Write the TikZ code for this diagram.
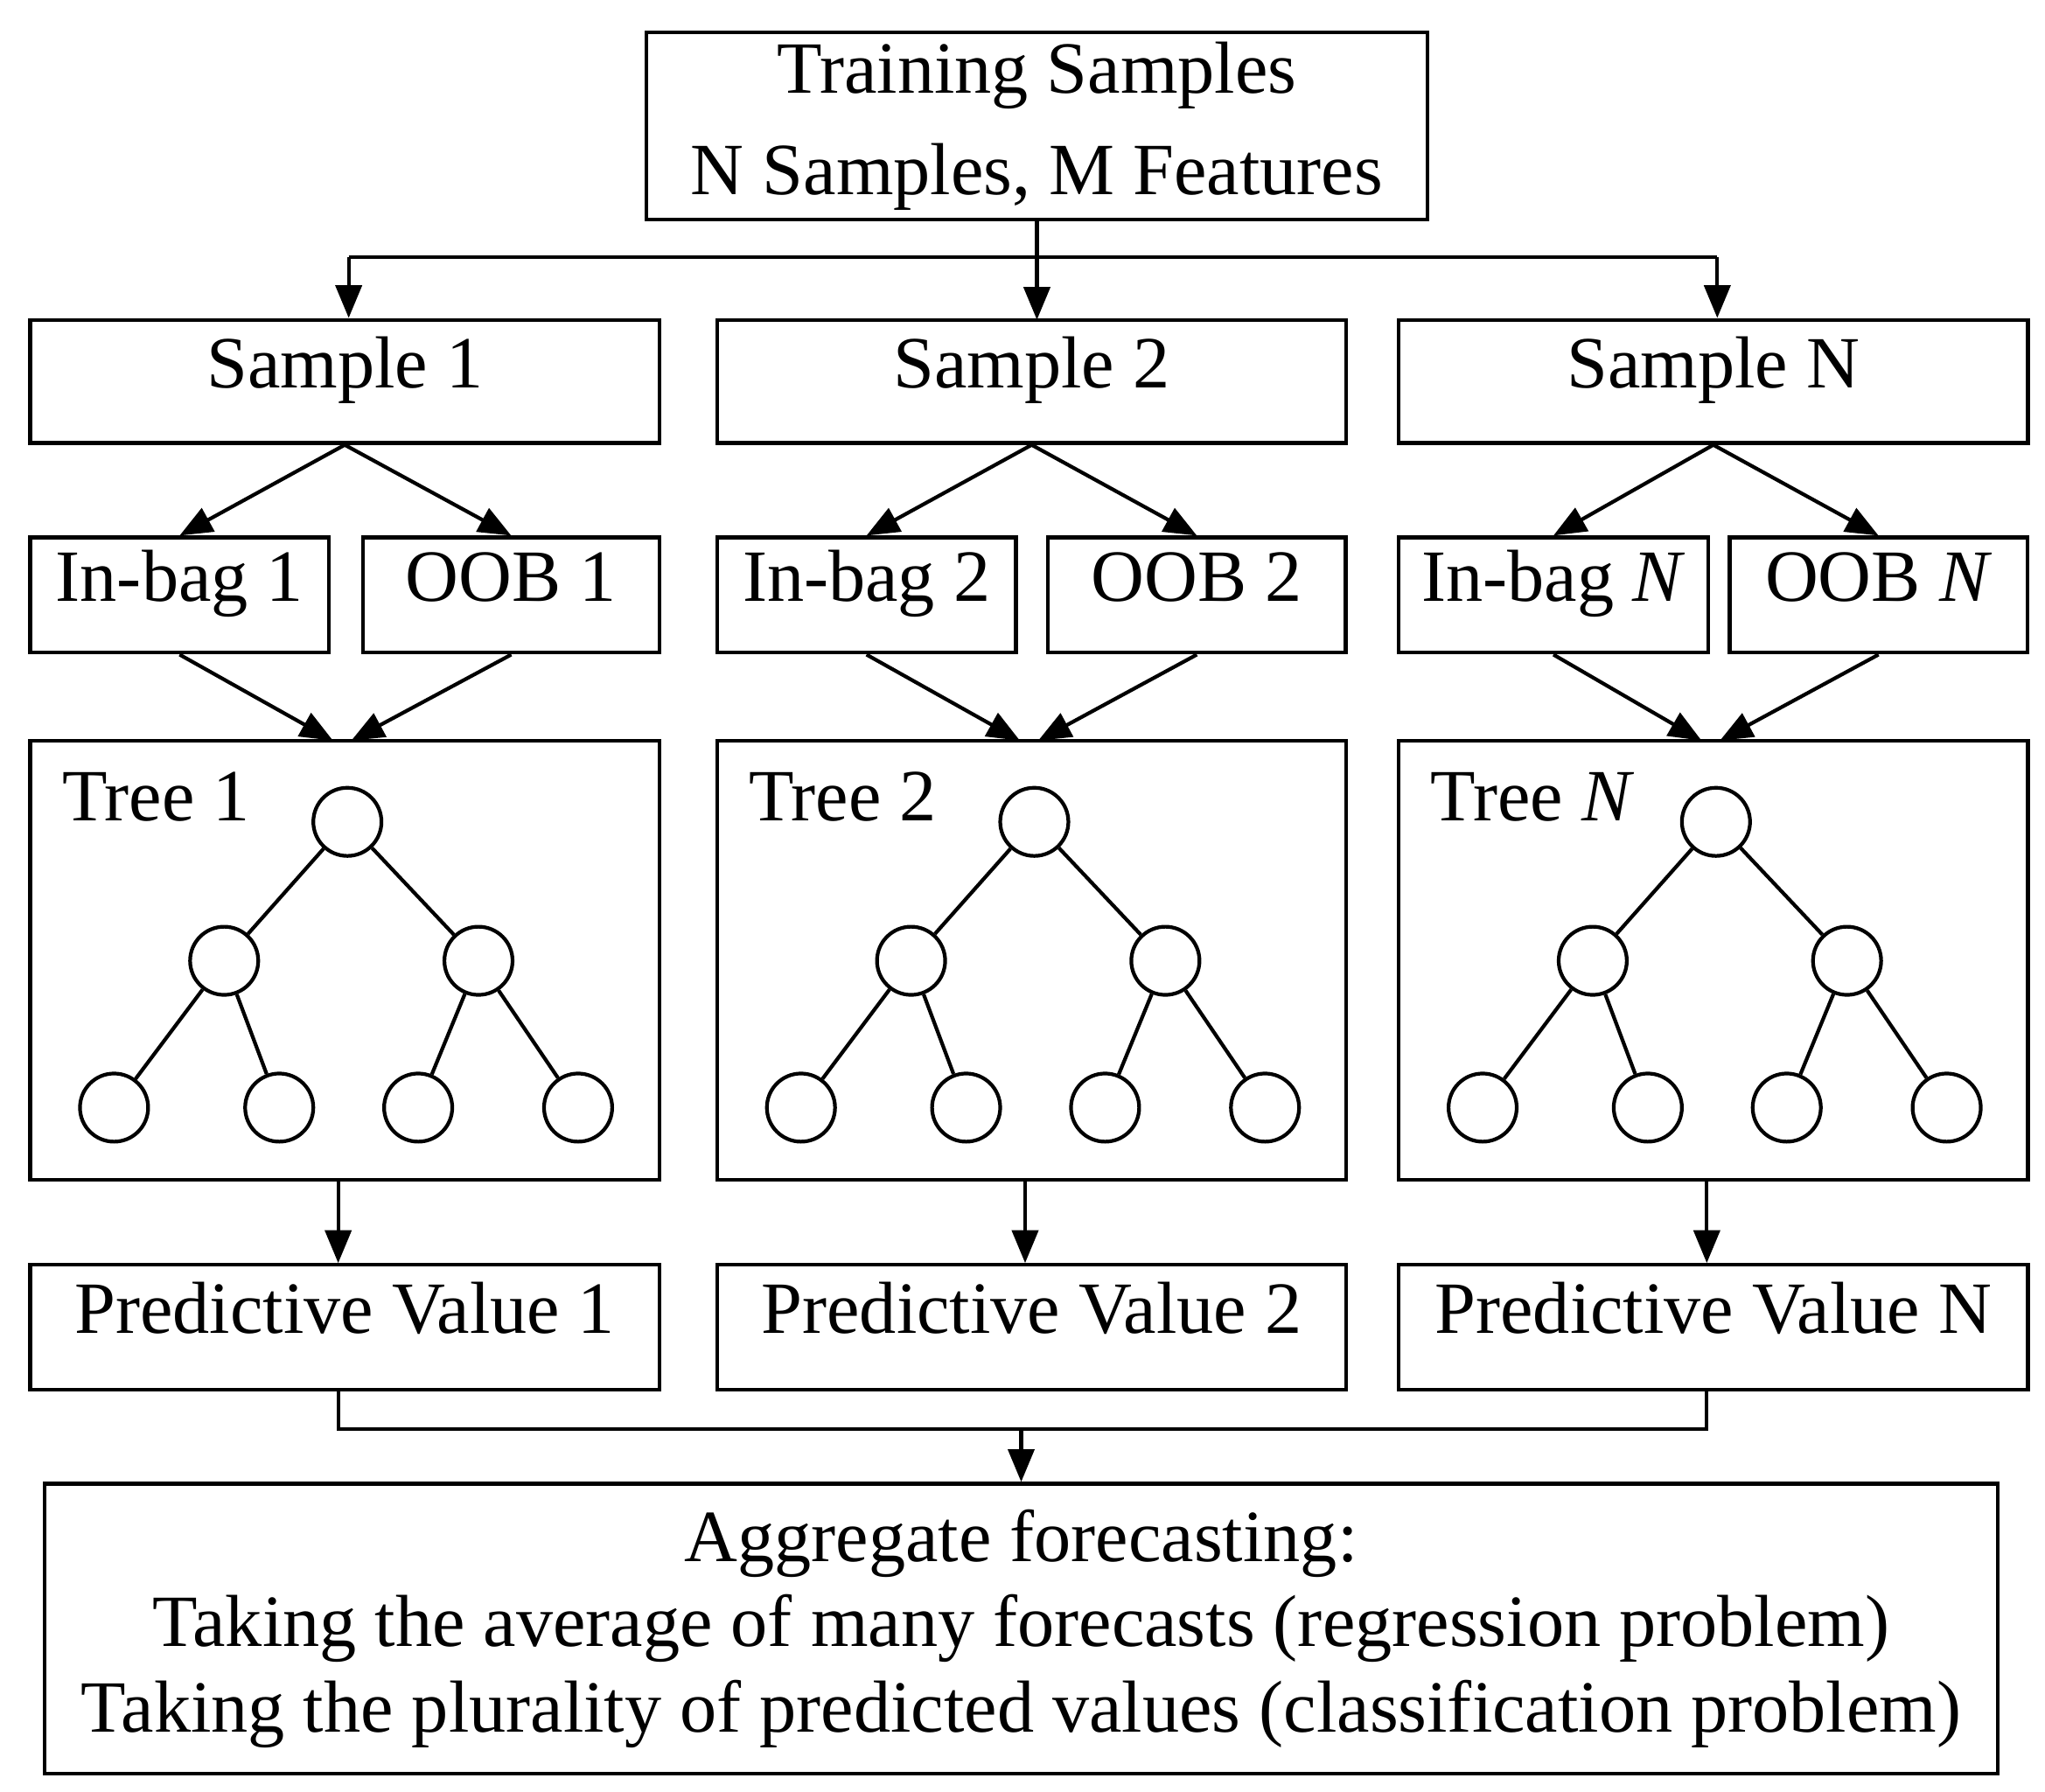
\documentclass[tikz,border=0pt]{standalone}
\usepackage{fontspec}
\setmainfont{Liberation Serif}
\usetikzlibrary{arrows.meta}
\begin{document}
\begin{tikzpicture}[x=0.02cm,y=-0.02cm,line width=1.6pt,
  box/.style={draw,inner sep=0pt,font=\fontsize{32}{38}\selectfont},
  tb/.style={text height=0.75em,text depth=0.22em},
  circ/.style={draw,circle,minimum size=1.04cm,inner sep=0pt},
  arr/.style={-{Triangle[length=0.5cm,width=0.4cm]}},
  lbl/.style={font=\fontsize{32}{38}\selectfont,anchor=west,inner sep=0pt}]
\useasboundingbox (0,0) rectangle (1560,1367);
\node[box,minimum width=596*0.02cm,minimum height=143*0.02cm,align=center] (top) at (791,96) {Training Samples\\[6pt]N Samples, M Features};
\foreach \i/\cx/\ix/\iw/\ox/\ow/\lab/\inl/\oobl/\trl/\pvl in
 {1/263/137/228/390/226/s1/In-bag 1/OOB 1/Tree 1/Predictive Value 1,
  2/787/661/228/913/227/s2/In-bag 2/OOB 2/Tree 2/Predictive Value 2,
  3/1307/1185/236/1433/227/s3/In-bag \textit{N}/OOB \textit{N}/Tree \textit{N}/Predictive Value N}{
  \node[box,tb,minimum width=480*0.02cm,minimum height=94*0.02cm] (S\i) at (\cx,291) {\ifnum\i=3 Sample N\else Sample \i\fi};
  \node[box,tb,minimum width=\iw*0.02cm,minimum height=88*0.02cm] (I\i) at (\ix,454) {\inl};
  \node[box,tb,minimum width=\ow*0.02cm,minimum height=88*0.02cm] (O\i) at (\ox,454) {\oobl};
  \node[box,minimum width=480*0.02cm,minimum height=335*0.02cm] (T\i) at (\cx,732.5) {};
  \node[lbl] (TL\i) at (\cx-217,608) {\trl};
  \node[box,tb,minimum width=480*0.02cm,minimum height=95*0.02cm] (P\i) at (\cx,1012.5) {\pvl};
  \coordinate (Tt\i) at (\cx-2,565);
  \draw[arr] (S\i.south) -- (I\i.north);
  \draw[arr] (S\i.south) -- (O\i.north);
  \draw[arr] (I\i.south) -- ([xshift=-7*0.02cm]Tt\i);
  \draw[arr] (O\i.south) -- ([xshift=7*0.02cm]Tt\i);
  \draw[arr] ([xshift=-5*0.02cm]T\i.south) -- ([xshift=-5*0.02cm]P\i.north);
  \node[circ] (r\i) at (\cx+2,627) {};
  \node[circ] (a\i) at (\cx-92,733) {};
  \node[circ] (b\i) at (\cx+102,733) {};
  \node[circ] (c\i) at (\cx-176,845) {};
  \node[circ] (d\i) at (\cx-50,845) {};
  \node[circ] (e\i) at (\cx+56,845) {};
  \node[circ] (f\i) at (\cx+178,845) {};
  \draw (r\i)--(a\i) (r\i)--(b\i) (a\i)--(c\i) (a\i)--(d\i) (b\i)--(e\i) (b\i)--(f\i);
}
\coordinate (j1) at (266,196);
\coordinate (j3) at (1310,196);
\draw (top.south) -- (791,196);
\draw[arr] (j1) -- (j1|-S1.north);
\draw[arr] (top.south) -- (791,244);
\draw[arr] (j3) -- (j3|-S3.north);
\draw (j1) -- (j3);
\node[box,minimum width=1490*0.02cm,minimum height=221*0.02cm,align=center] (ag) at (779,1242.5)
 {Aggregate forecasting:\\[-1pt]Taking the average of many forecasts (regression problem)\\[-1pt]Taking the plurality of predicted values (classification problem)};
\coordinate (k) at (779,1090);
\draw ([xshift=-5*0.02cm]P1.south) |- (k) -| ([xshift=-5*0.02cm]P3.south);
\draw[arr] (k) -- (ag.north);
\end{tikzpicture}
\end{document}
